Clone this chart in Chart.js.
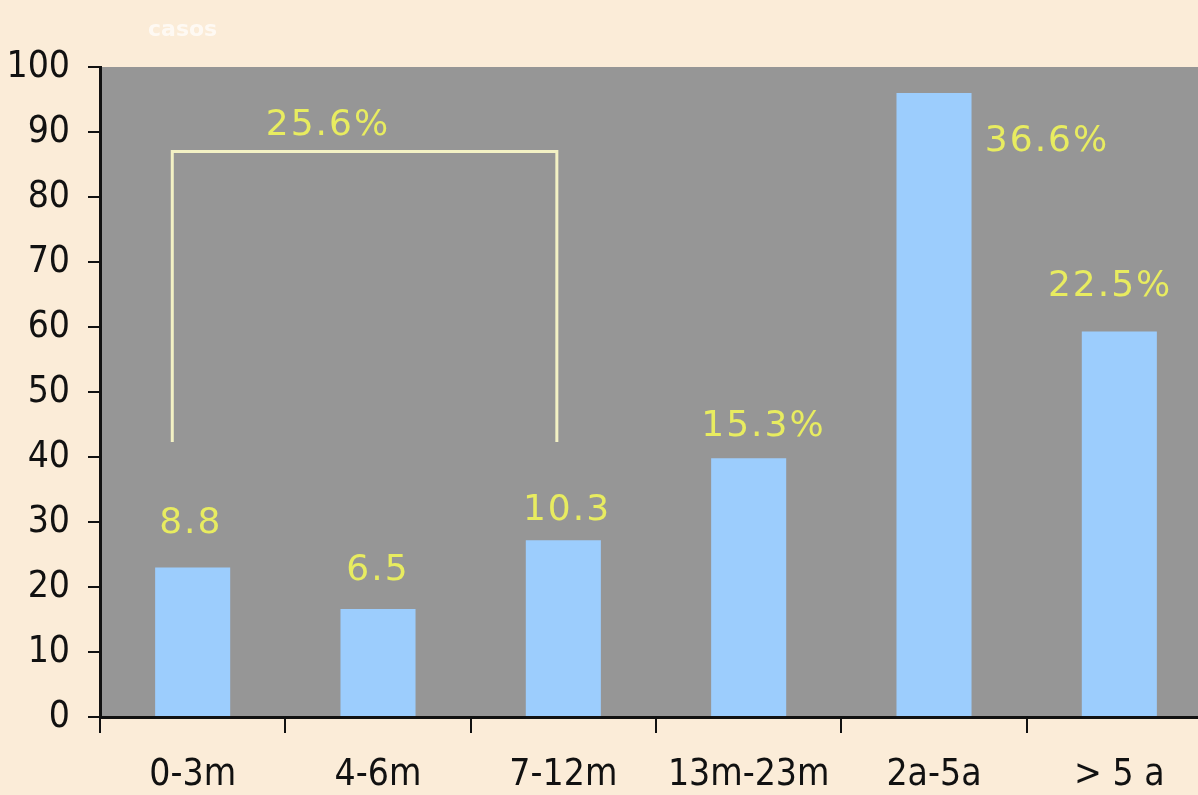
<!DOCTYPE html>
<html>
<head>
<meta charset="utf-8">
<script src="https://cdn.jsdelivr.net/npm/chart.js@4.4.1/dist/chart.umd.min.js"></script>
<style>
  html, body { margin: 0; padding: 0; overflow: hidden; background: #fbecd8; }
  #wrap { position: relative; width: 1212px; height: 795px; }
  #caption { position: absolute; left: 148px; top: 16px; font: bold 22px "DejaVu Sans", sans-serif; color: rgba(255,255,255,0.7); }
</style>
</head>
<body>
<div id="wrap">
  <div id="caption">casos</div>
  <canvas id="chart" width="1212" height="795"></canvas>
</div>
<script>
// ---------- data ----------
const ageGroups = ["0-3m", "4-6m", "7-12m", "13m-23m", "2a-5a", "> 5 a"];
const cases = [23, 16.6, 27.2, 39.8, 96, 59.3];
const valueLabels = ["8.8", "6.5", "10.3", "15.3%", "36.6%", "22.5%"];
const yTicks = [0, 10, 20, 30, 40, 50, 60, 70, 80, 90, 100];

// where each yellow label sits: shift from the category centre (in categories) and y value
const labelShift = [-0.01, 0.0, 0.02, 0.08, 0.61, -0.05];
const labelLevel = [29.7, 22.5, 31.8, 44.6, 88.5, 66.2];

// bracket over the first three groups, with its own label
const bracketText = "25.6%";
const bracket = { from: 0, to: 2, fromShift: -0.11, toShift: -0.035, top: 87, bottom: 42.3, textShift: 0.73, textLevel: 91 };

const YELLOW = "#e8ec60";
const LABEL_FONT = "36px 'DejaVu Sans', Verdana, sans-serif";
const AXIS_FONT = { family: "'Liberation Sans Narrow', 'DejaVu Sans Condensed', sans-serif", size: 37 };

const plotBg = {
  id: "plotBg",
  beforeDraw(chart) {
    const { ctx, chartArea: a } = chart;
    ctx.save();
    ctx.fillStyle = "#969696";
    ctx.fillRect(a.left, a.top, a.right - a.left, a.bottom - a.top);
    ctx.restore();
  },
};

const notes = {
  id: "notes",
  afterDatasetsDraw(chart) {
    const { ctx } = chart;
    const x = chart.scales.x, y = chart.scales.y;
    const step = x.getPixelForValue(1) - x.getPixelForValue(0);
    const xAt = (i, shift) => x.getPixelForValue(i) + shift * step;

    ctx.save();
    // bracket
    ctx.strokeStyle = "#f3f1c4";
    ctx.lineWidth = 3;
    ctx.beginPath();
    ctx.moveTo(xAt(bracket.from, bracket.fromShift), y.getPixelForValue(bracket.bottom));
    ctx.lineTo(xAt(bracket.from, bracket.fromShift), y.getPixelForValue(bracket.top));
    ctx.lineTo(xAt(bracket.to, bracket.toShift), y.getPixelForValue(bracket.top));
    ctx.lineTo(xAt(bracket.to, bracket.toShift), y.getPixelForValue(bracket.bottom));
    ctx.stroke();

    // labels
    ctx.fillStyle = YELLOW;
    ctx.font = LABEL_FONT;
    ctx.letterSpacing = "2px";
    ctx.textAlign = "center";
    ctx.textBaseline = "middle";
    valueLabels.forEach((t, i) => {
      ctx.fillText(t, xAt(i, labelShift[i]), y.getPixelForValue(labelLevel[i]));
    });
    ctx.fillText(bracketText, xAt(bracket.from, bracket.textShift), y.getPixelForValue(bracket.textLevel));
    ctx.restore();
  },
};

new Chart(document.getElementById("chart"), {
  type: "bar",
  data: {
    labels: ageGroups,
    datasets: [{ data: cases, backgroundColor: "#9ccdfd", borderWidth: 0, barPercentage: 0.405, categoryPercentage: 1 }],
  },
  options: {
    responsive: false,
    animation: false,
    layout: { padding: { top: 67, left: 0, right: 0, bottom: 0 } },
    plugins: { legend: { display: false }, tooltip: { enabled: false } },
    scales: {
      x: {
        grid: { display: true, drawOnChartArea: false, color: "#111", lineWidth: 2, tickLength: 16, offset: true },
        border: { display: true, color: "#111", width: 3 },
        ticks: { color: "#111", font: AXIS_FONT, padding: 20, maxRotation: 0, autoSkip: false },
        afterFit: (s) => { s.height = 78; },
      },
      y: {
        min: 0, max: 100,
        afterBuildTicks: (s) => { s.ticks = yTicks.map((v) => ({ value: v })); },
        grid: { display: true, drawOnChartArea: false, color: "#111", lineWidth: 2, tickLength: 12 },
        border: { display: true, color: "#111", width: 3 },
        ticks: { color: "#111", font: AXIS_FONT, padding: 18 },
        afterFit: (s) => { s.width = 100; },
      },
    },
  },
  plugins: [plotBg, notes],
});
</script>
</body>
</html>
